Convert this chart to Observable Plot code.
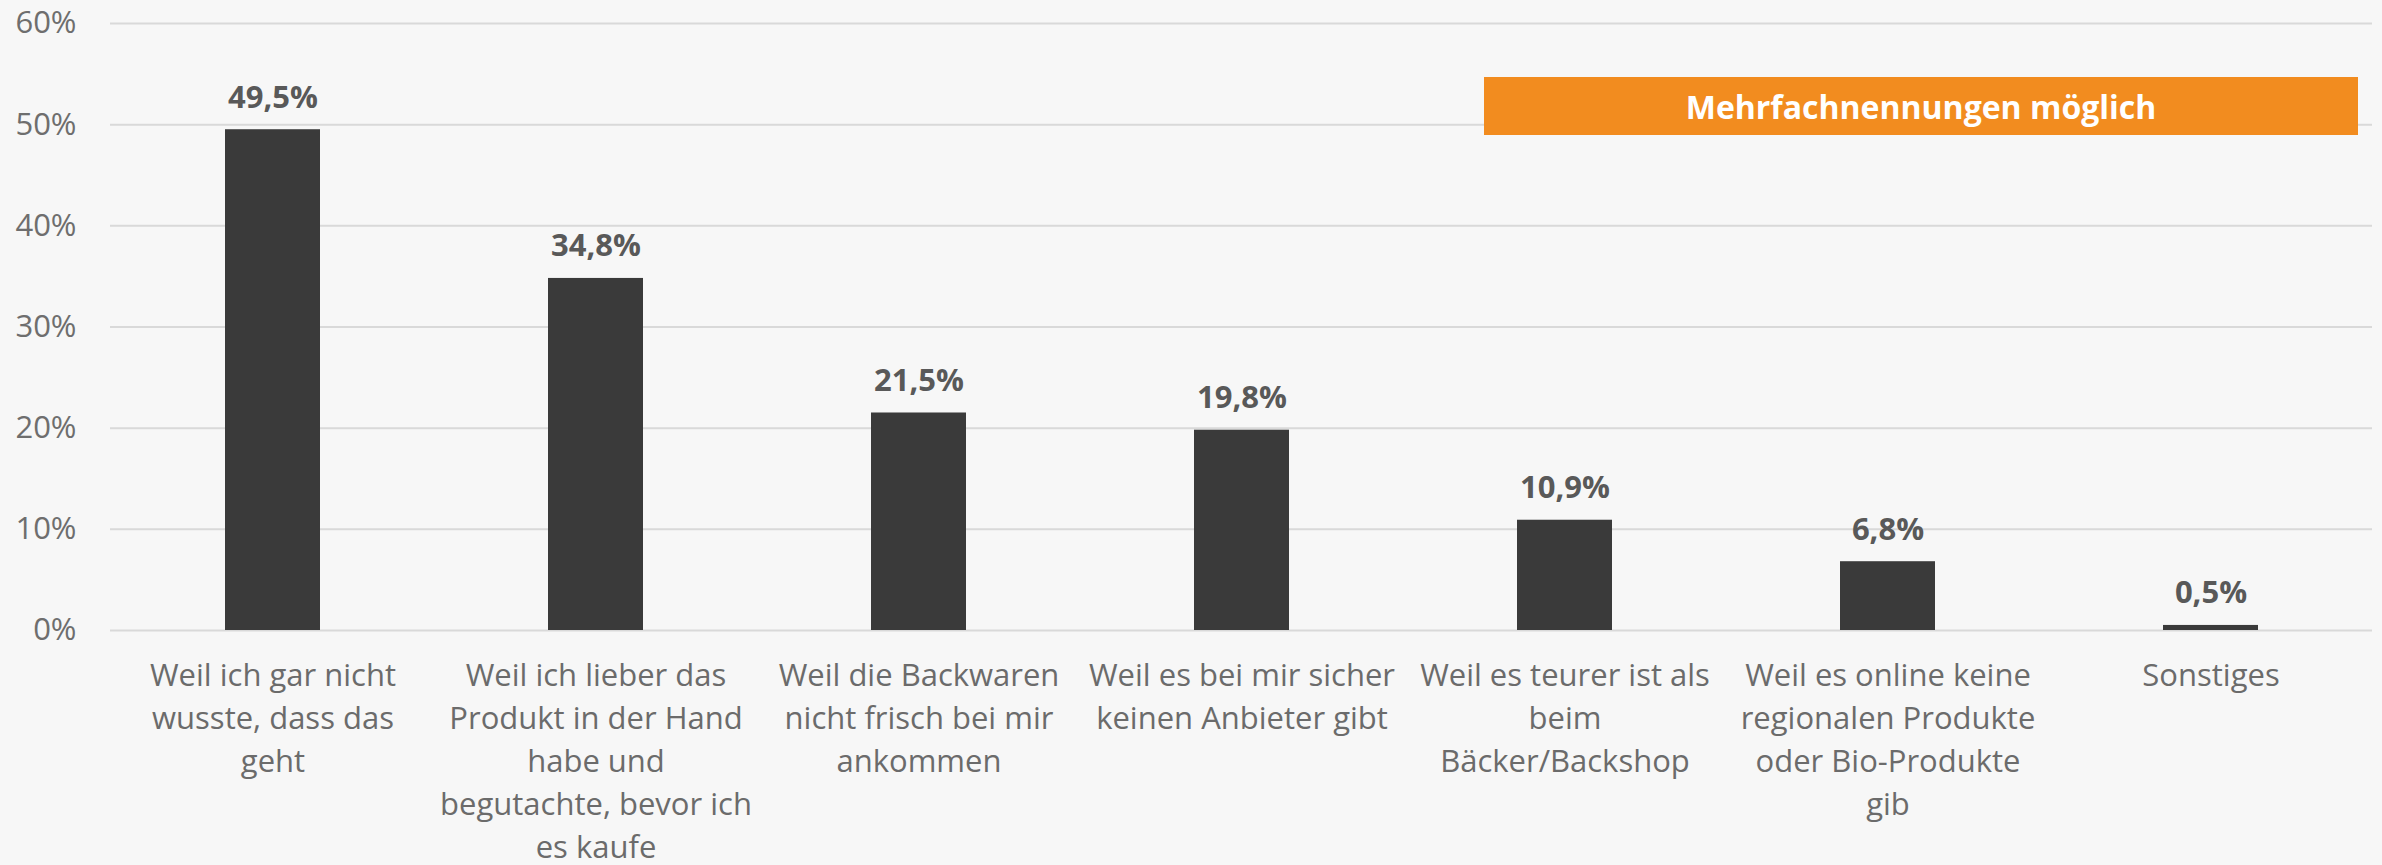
<!DOCTYPE html>
<html>
<head>
<meta charset="utf-8">
<script src="https://cdn.jsdelivr.net/npm/d3@7"></script>
<script src="https://cdn.jsdelivr.net/npm/@observablehq/plot@0.6"></script>
<style>
  html, body { margin: 0; padding: 0; background: #f7f7f7; }
  #wrap { position: relative; width: 2382px; height: 865px; font-family: "Open Sans", sans-serif; }
  #note {
    position: absolute; left: 1484px; top: 77px; width: 874px; height: 58px;
    background: #f28c1f; color: #ffffff; font-weight: 700; font-size: 32px;
    display: flex; align-items: center; justify-content: center;
    font-family: "Open Sans", sans-serif;
  }
</style>
</head>
<body>
<div id="wrap"><div id="note">Mehrfachnennungen möglich</div></div>
<script>
const categories = [
  "Weil ich gar nicht wusste, dass das geht",
  "Weil ich lieber das Produkt in der Hand habe und begutachte, bevor ich es kaufe",
  "Weil die Backwaren nicht frisch bei mir ankommen",
  "Weil es bei mir sicher keinen Anbieter gibt",
  "Weil es teurer ist als beim Bäcker/Backshop",
  "Weil es online keine regionalen Produkte oder Bio-Produkte gib",
  "Sonstiges"
];
const tickLabels = [
  "Weil ich gar nicht\nwusste, dass das\ngeht",
  "Weil ich lieber das\nProdukt in der Hand\nhabe und\nbegutachte, bevor ich\nes kaufe",
  "Weil die Backwaren\nnicht frisch bei mir\nankommen",
  "Weil es bei mir sicher\nkeinen Anbieter gibt",
  "Weil es teurer ist als\nbeim\nBäcker/Backshop",
  "Weil es online keine\nregionalen Produkte\noder Bio-Produkte\ngib",
  "Sonstiges"
];
const values = [49.5, 34.8, 21.5, 19.8, 10.9, 6.8, 0.5];
const yTicks = [0, 10, 20, 30, 40, 50, 60];

const data = categories.map((c, i) => ({category: c, value: values[i]}));
const labelOf = new Map(categories.map((c, i) => [c, tickLabels[i]]));
const fmt = v => v.toFixed(1).replace(".", ",") + "%";

const chart = Plot.plot({
  width: 2382,
  height: 865,
  marginLeft: 110,
  marginRight: 10,
  marginTop: 23,
  marginBottom: 235,
  style: {background: "#f7f7f7", fontFamily: "'Open Sans', sans-serif"},
  x: {domain: categories, paddingInner: 0.706, paddingOuter: 0.353},
  y: {domain: [0, 60]},
  marks: [
    Plot.gridY(yTicks, {stroke: "#d9d9d9", strokeOpacity: 1, strokeWidth: 2}),
    Plot.barY(data, {x: "category", y: "value", fill: "#3a3a3a"}),
    Plot.text(data, {
      x: "category", y: "value", text: d => fmt(d.value),
      dy: -22, lineAnchor: "bottom", fontWeight: 700, fontSize: 31, fill: "#595959"
    }),
    Plot.axisY(yTicks, {
      tickSize: 0, tickPadding: 34, fontSize: 31, fill: "#6e6e6e",
      tickFormat: d => d + "%", label: null
    }),
    Plot.axisX({
      tickSize: 0, tickPadding: 25, fontSize: 31, lineHeight: 1.39, fill: "#6b6b6b",
      tickFormat: c => labelOf.get(c), label: null, textOverflow: null, lineWidth: Infinity
    })
  ]
});
document.getElementById("wrap").prepend(chart);
</script>
</body>
</html>
